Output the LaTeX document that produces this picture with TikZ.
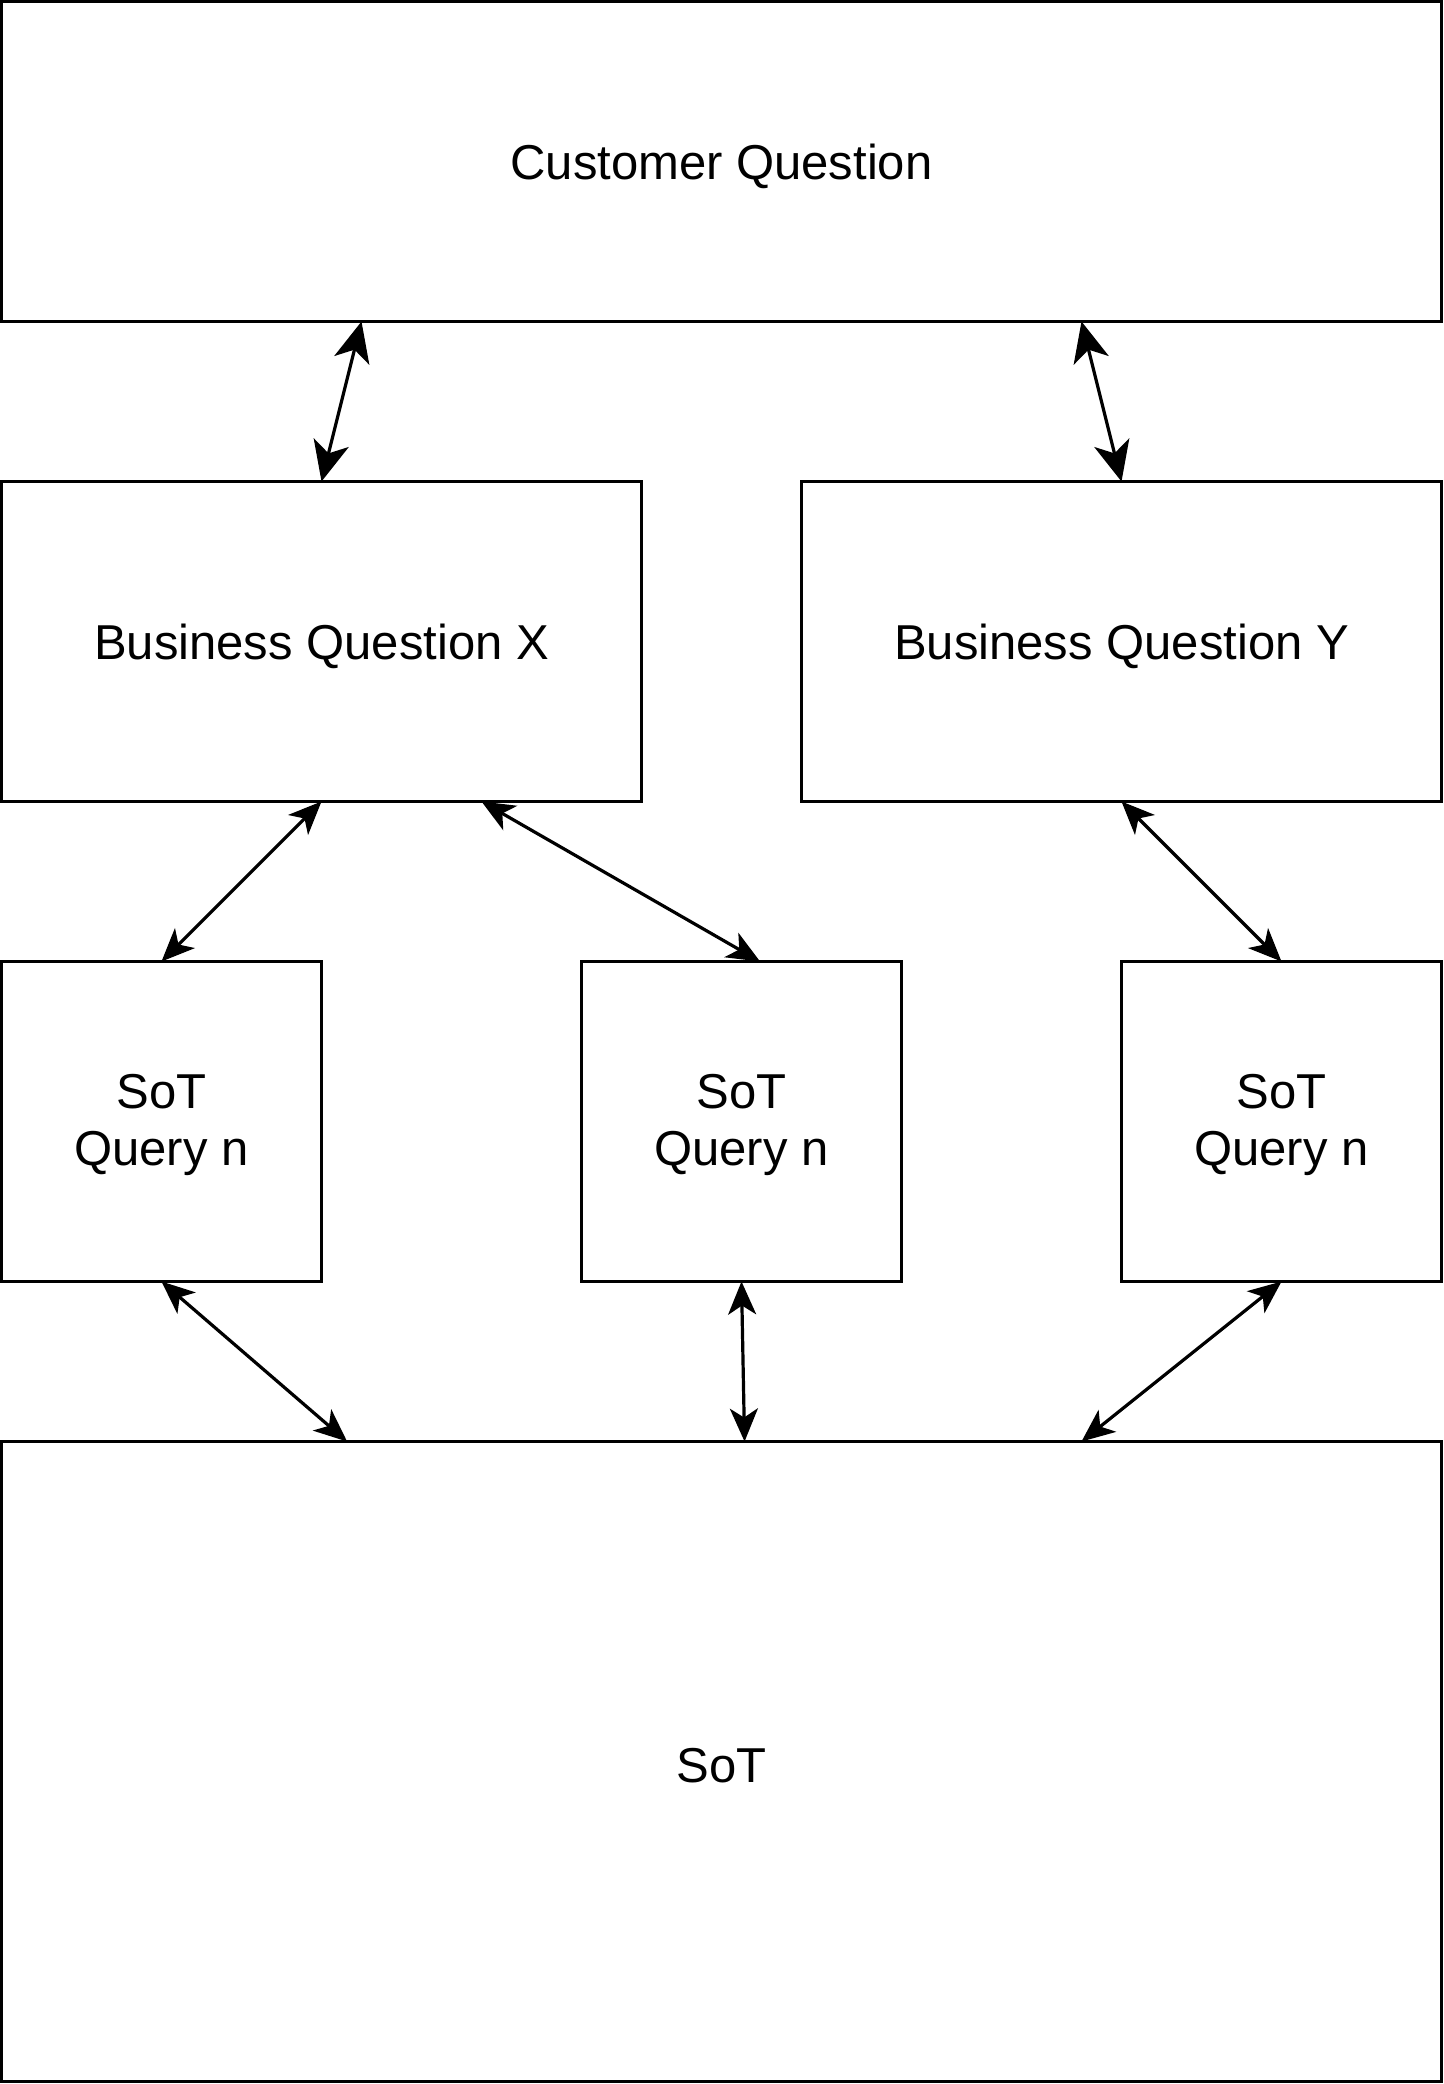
\documentclass[tikz,border=0pt]{standalone}
\usepackage{fontspec}
\setmainfont{Liberation Sans}
\usetikzlibrary{arrows.meta,calc}
\newcommand\dn[1]{\raisebox{-2.2pt}[\height][\depth]{#1}}
\tikzset{
  box/.style={draw=black, line width=1.7pt, fill=white, outer sep=0pt, inner sep=0pt,
    align=center, font=\fontsize{24.5}{28.5}\selectfont},
  link/.style={line width=1.6pt, {Stealth[length=16.5pt,width=14pt,inset=4.5pt]}-{Stealth[length=16.5pt,width=14pt,inset=4.5pt]}},
  biglink/.style={line width=1.6pt, {Stealth[length=20pt,width=18pt,inset=5.5pt]}-{Stealth[length=20pt,width=18pt,inset=5.5pt]}}
}
\begin{document}
\begin{tikzpicture}[x=0.5pt,y=-0.5pt]
\useasboundingbox (0,0) rectangle (1444,2084);
\node[box, minimum width=720pt, minimum height=160pt] (cq) at (721.5,161.5) {\dn{Customer Question}};
\node[box, minimum width=320pt, minimum height=160pt] (bqx) at (321.5,641.5) {\dn{Business Question X}};
\node[box, minimum width=320pt, minimum height=160pt] (bqy) at (1121.5,641.5) {\dn{Business Question Y}};
\node[box, minimum width=160pt, minimum height=160pt] (sq1) at (161.5,1121.5) {\dn{\begin{tabular}{@{}c@{}}SoT\\Query n\end{tabular}}};
\node[box, minimum width=160pt, minimum height=160pt] (sq2) at (741.5,1121.5) {\dn{\begin{tabular}{@{}c@{}}SoT\\Query n\end{tabular}}};
\node[box, minimum width=160pt, minimum height=160pt] (sq3) at (1281.5,1121.5) {\dn{\begin{tabular}{@{}c@{}}SoT\\Query n\end{tabular}}};
\node[box, minimum width=720pt, minimum height=320pt] (sot) at (721.5,1761.5) {\dn{SoT}};
\draw[biglink] ($(cq.south west)!0.25!(cq.south east)$) -- (bqx.north);
\draw[biglink] ($(cq.south west)!0.75!(cq.south east)$) -- (bqy.north);
\draw[link] (bqx.south) -- (sq1.north);
\draw[link] ($(bqx.south west)!0.75!(bqx.south east)$) -- ($(sq2.north west)!0.558!(sq2.north east)$);
\draw[link] (bqy.south) -- (sq3.north);
\draw[link] (sq1.south) -- ($(sot.north west)!0.24!(sot.north east)$);
\draw[link] (sq2.south) -- ($(sot.north west)!0.516!(sot.north east)$);
\draw[link] (sq3.south) -- ($(sot.north west)!0.75!(sot.north east)$);
\end{tikzpicture}
\end{document}
